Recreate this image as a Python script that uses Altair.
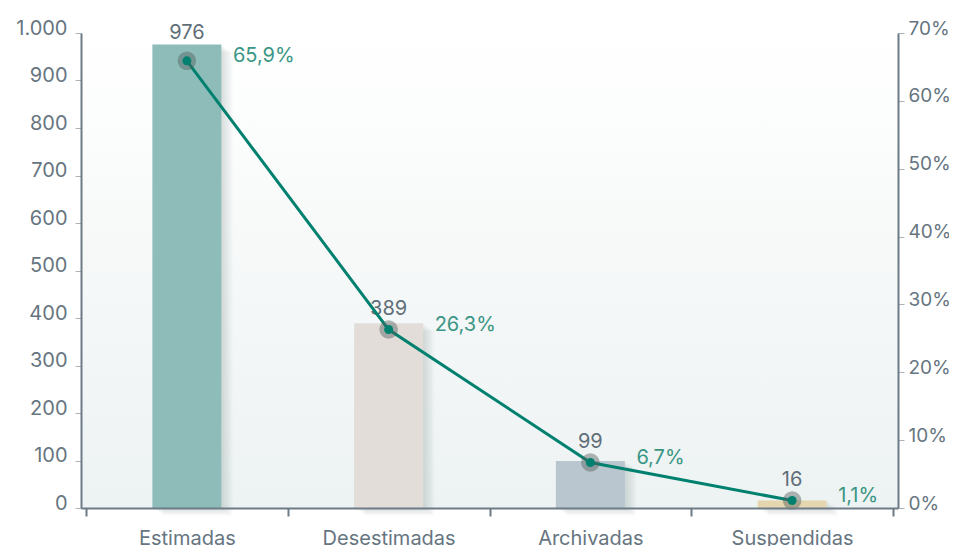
import json
import altair as alt
import pandas as pd

# ---- data ----
categories = ["Estimadas", "Desestimadas", "Archivadas", "Suspendidas"]
counts = [976, 389, 99, 16]
percents = [65.9, 26.3, 6.7, 1.1]
bar_colors = ["#8dbcb9", "#e2ddd8", "#b9c6cf", "#e4d6ae"]

left_ticks = [0, 100, 200, 300, 400, 500, 600, 700, 800, 900, 1000]
right_ticks = [0, 10, 20, 30, 40, 50, 60, 70]

df = pd.DataFrame({
    "cat": categories,
    "count": counts,
    "pct": percents,
    "pos": [i + 0.5 for i in range(len(categories))],
})

W, H = 817, 475
FONT = "Inter"
FS = 20
AXIS_COL = "#6c7b85"
LABEL_COL = "#66757f"
LINE_COL = "#00806e"
PCT_COL = "#3a9684"

x_vals = [i * 0.5 for i in range(2 * len(categories) + 1)]
cats_js = json.dumps(categories).replace('"', "'")
x_axis = alt.Axis(
    values=x_vals,
    labelExpr=f"datum.value % 1 == 0.5 ? {cats_js}[floor(datum.value)] : ''",
    tickOpacity={"condition": {"test": "datum.value % 1 != 0", "value": 0}, "value": 1},
    tickSize=8, tickWidth=2, tickColor=AXIS_COL,
    domainColor=AXIS_COL, domainWidth=2,
    labelPadding=12, labelFontSize=FS, labelColor=LABEL_COL, labelFont=FONT,
    labelOverlap=False, labelFlush=False, labelBound=False,
    grid=False, title=None, zindex=1,
)
x_enc = alt.X("pos:Q", scale=alt.Scale(domain=[0, len(categories)], nice=False, zero=False), axis=x_axis)

left_axis = alt.Axis(
    values=left_ticks,
    labelExpr="replace(format(datum.value, ','), ',', '.')",
    tickSize=6, tickColor="#a9b3b9", tickWidth=1,
    domainColor=AXIS_COL, domainWidth=2,
    labelPadding=8, labelFontSize=FS, labelColor=LABEL_COL, labelFont=FONT,
    labelBaseline="alphabetic", labelOffset=1,
    grid=False, title=None, zindex=1,
)
right_axis = alt.Axis(
    orient="right",
    values=right_ticks,
    labelExpr="datum.value + '%'",
    tickSize=6, tickColor="#a9b3b9", tickWidth=1,
    domainColor=AXIS_COL, domainWidth=2,
    labelPadding=4, labelFontSize=19, labelColor=LABEL_COL, labelFont=FONT,
    labelBaseline="alphabetic", labelOffset=1,
    grid=False, title=None, zindex=1,
)
yl_scale = alt.Scale(domain=[0, 1000], nice=False)
yr_scale = alt.Scale(domain=[0, 70], nice=False)

# background gradient of plot area
bg = alt.Chart(pd.DataFrame({"k": [0]})).mark_rect(
    fill=alt.Gradient(
        gradient="linear", x1=0, y1=0, x2=0, y2=1,
        stops=[alt.GradientStop(offset=0, color="#ffffff"),
               alt.GradientStop(offset=1, color="#edf2f2")],
    )
).encode(x=alt.value(0), x2=alt.value(W), y=alt.value(0), y2=alt.value(H))

base = alt.Chart(df)

yl = alt.Y("count:Q", scale=yl_scale, axis=left_axis)
yr = alt.Y("pct:Q", scale=yr_scale, axis=right_axis)

shadows = [
    base.mark_bar(size=69, color="#3a4a4a", opacity=0.035, xOffset=2.2 * k, yOffset=1.5 * k)
    .encode(x=x_enc, y=yl)
    for k in range(1, 6)
]

bars = base.mark_bar(size=69).encode(
    x=x_enc,
    y=yl,
    color=alt.Color("cat:N", scale=alt.Scale(domain=categories, range=bar_colors), legend=None),
)

count_labels = base.transform_calculate(
    lab="max(datum.count, datum.pct * 1000 / 70 + 21)"
).mark_text(
    baseline="alphabetic", dy=-5, fontSize=FS, font=FONT, color="#5f6e78"
).encode(
    x=x_enc,
    y=alt.Y("lab:Q", scale=yl_scale, axis=left_axis),
    text=alt.Text("count:Q"),
)

left_layer = alt.layer(bg, *shadows, bars, count_labels)

line = base.mark_line(color=LINE_COL, strokeWidth=3).encode(x=x_enc, y=yr)
halo = base.mark_circle(size=346, color="#55615f", opacity=0.45).encode(x=x_enc, y=yr)
dot = base.mark_circle(size=80, color=LINE_COL, opacity=1).encode(x=x_enc, y=yr)
pct_labels = base.transform_calculate(
    txt="replace(format(datum.pct, '.1f'), '.', ',') + '%'"
).mark_text(
    align="left", baseline="middle", dx=46, dy=-5, fontSize=FS, font=FONT, color=PCT_COL
).encode(x=x_enc, y=yr, text="txt:N")

right_layer = alt.layer(line, halo, dot, pct_labels)

chart = (
    alt.layer(left_layer, right_layer)
    .resolve_scale(y="independent")
    .properties(
        width=W, height=H,
        autosize=alt.AutoSizeParams(type="none"),
        padding={"left": 73, "top": 25, "right": 51, "bottom": 38},
        background="#ffffff",
    )
    .configure_view(stroke=None)
)

chart.save("out.html", embed_options={"renderer": "svg", "actions": False})
